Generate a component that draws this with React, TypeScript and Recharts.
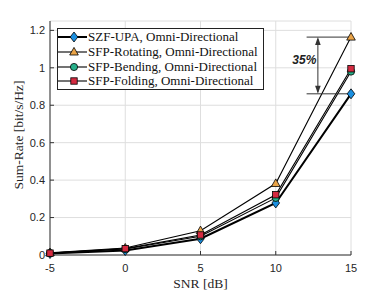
import React from 'react';
import { LineChart, Line, XAxis, YAxis, CartesianGrid, Legend, ReferenceLine } from 'recharts';

const snrDb = [-5, 0, 5, 10, 15];
const szfUpa = [0.008, 0.024, 0.087, 0.278, 0.861];
const sfpRotating = [0.012, 0.037, 0.13, 0.382, 1.164];
const sfpBending = [0.01, 0.032, 0.1, 0.305, 0.98];
const sfpFolding = [0.01, 0.034, 0.107, 0.322, 0.995];
const xTicks = [-5, 0, 5, 10, 15];
const yTicks = [0, 0.2, 0.4, 0.6, 0.8, 1, 1.2];
const seriesNames = [
  'SZF-UPA, Omni-Directional',
  'SFP-Rotating, Omni-Directional',
  'SFP-Bending, Omni-Directional',
  'SFP-Folding, Omni-Directional',
];
const gainLabel = '35%';

const data = snrDb.map((s, i) => ({
  snr: s,
  szf: szfUpa[i],
  rot: sfpRotating[i],
  bend: sfpBending[i],
  fold: sfpFolding[i],
}));

type Shape = 'diamond' | 'triangle' | 'circle' | 'square';

const series: { key: string; name: string; shape: Shape; fill: string; width: number }[] = [
  { key: 'szf', name: seriesNames[0], shape: 'diamond', fill: '#1b8fe0', width: 2 },
  { key: 'rot', name: seriesNames[1], shape: 'triangle', fill: '#eaa448', width: 1.1 },
  { key: 'bend', name: seriesNames[2], shape: 'circle', fill: '#27b08a', width: 1.1 },
  { key: 'fold', name: seriesNames[3], shape: 'square', fill: '#d42a40', width: 1.1 },
];

const AX = '#333333';
const TICK_FONT = { fontFamily: '"Liberation Sans", Arial, sans-serif', fontSize: 11, fill: '#262626' };
const SERIF = '"Liberation Serif", "Times New Roman", serif';

function markerEl(shape: Shape, cx: number, cy: number, fill: string, key?: any) {
  const sw = 0.8;
  if (shape === 'diamond') {
    return (
      <polygon key={key} points={`${cx},${cy - 5} ${cx + 3.8},${cy} ${cx},${cy + 5} ${cx - 3.8},${cy}`} fill={fill} stroke="#000" strokeWidth={sw} />
    );
  }
  if (shape === 'triangle') {
    return (
      <polygon key={key} points={`${cx},${cy - 4.6} ${cx + 4.3},${cy + 3} ${cx - 4.3},${cy + 3}`} fill={fill} stroke="#000" strokeWidth={sw} />
    );
  }
  if (shape === 'circle') {
    return <circle key={key} cx={cx} cy={cy} r={3.6} fill={fill} stroke="#000" strokeWidth={sw} />;
  }
  return <rect key={key} x={cx - 3.2} y={cy - 3.2} width={6.4} height={6.4} fill={fill} stroke="#000" strokeWidth={sw} />;
}

const renderLegend = () => (
  <div
    style={{
      boxSizing: 'border-box',
      width: 207,
      height: 62,
      border: '1px solid #222',
      background: '#fff',
      paddingTop: 1,
      fontFamily: SERIF,
      fontSize: 13,
      color: '#111',
    }}
  >
    {series.map((s) => (
      <div key={s.key} style={{ display: 'flex', alignItems: 'center', height: 14.7, whiteSpace: 'nowrap' }}>
        <svg width={30} height={14} style={{ display: 'block', flex: 'none' }}>
          <line x1={0} y1={7} x2={29} y2={7} stroke="#000" strokeWidth={s.width} />
          {markerEl(s.shape, 16, 7, s.fill)}
        </svg>
        <span style={{ fontFamily: SERIF }}>{s.name}</span>
      </div>
    ))}
  </div>
);

const ArrowShape = (props: any) => {
  const { x1, y1, y2 } = props;
  const top = Math.min(y1, y2);
  const bot = Math.max(y1, y2);
  const mid = (top + bot) / 2;
  return (
    <g>
      <line x1={x1} y1={top + 2} x2={x1} y2={bot - 2} stroke={AX} strokeWidth={1} />
      <polygon points={`${x1},${top} ${x1 - 2.8},${top + 8} ${x1 + 2.8},${top + 8}`} fill={AX} />
      <polygon points={`${x1},${bot} ${x1 - 2.8},${bot - 8} ${x1 + 2.8},${bot - 8}`} fill={AX} />
      <text
        x={x1 - 1.5}
        y={mid - 1.5}
        textAnchor="end"
        fontFamily='"Liberation Sans", Arial, sans-serif'
        fontSize={12}
        fontWeight="bold"
        fontStyle="italic"
        fill="#222"
      >
        {gainLabel}
      </text>
    </g>
  );
};

const YLabel = (props: any) => {
  const vb = props.viewBox || { x: 0, y: 21, width: 50, height: 234 };
  const cx = vb.x + 23;
  const cy = vb.y + vb.height / 2 - 3;
  return (
    <text x={cx} y={cy} transform={`rotate(-90 ${cx} ${cy})`} textAnchor="middle" fontFamily={SERIF} fontSize={13.5} fill="#262626">
      Sum-Rate [bit/s/Hz]
    </text>
  );
};

const XLabel = (props: any) => {
  const vb = props.viewBox || { x: 50, y: 255, width: 301, height: 36 };
  const cx = vb.x + vb.width / 2;
  return (
    <text x={cx} y={vb.y + 33} textAnchor="middle" fontFamily={SERIF} fontSize={13.5} fill="#262626">
      SNR [dB]
    </text>
  );
};

export default function App() {
  return (
    <div style={{ position: 'absolute', left: 0, top: 0, background: '#fff' }}>
      <LineChart width={388} height={291} data={data} margin={{ top: 21, right: 37, bottom: 0, left: 0 }}>
        <CartesianGrid stroke="#dedede" strokeWidth={1} />
        <XAxis
          dataKey="snr"
          type="number"
          domain={[-5, 15]}
          ticks={xTicks}
          height={36}
          stroke={AX}
          tickSize={-4}
          tickMargin={13.5}
          tick={TICK_FONT}
          label={<XLabel />}
        />
        <XAxis
          xAxisId="top"
          orientation="top"
          type="number"
          domain={[-5, 15]}
          ticks={xTicks}
          height={0}
          stroke={AX}
          tickSize={-4}
          tick={false}
        />
        <YAxis
          type="number"
          domain={[0, 1.25]}
          ticks={yTicks}
          width={50}
          stroke={AX}
          tickSize={-4}
          tickMargin={9}
          tick={TICK_FONT}
          tickFormatter={(v: number) => String(v)}
          label={<YLabel />}
        />
        <YAxis
          yAxisId="right"
          orientation="right"
          type="number"
          domain={[0, 1.25]}
          ticks={yTicks}
          width={0}
          stroke={AX}
          tickSize={-4}
          tick={false}
        />
        <Legend
          layout="horizontal"
          verticalAlign="middle"
          align="center"
          content={renderLegend}
          wrapperStyle={{ position: 'absolute', left: 57, top: 28, width: 207, height: 62 }}
        />
        {series.map((s) => (
          <Line
            key={s.key}
            dataKey={s.key}
            name={s.name}
            type="linear"
            stroke="#000"
            strokeWidth={s.width}
            isAnimationActive={false}
            activeDot={false}
            dot={(p: any) => markerEl(s.shape, p.cx, p.cy, s.fill, `${s.key}-${p.index}`)}
          />
        ))}
        <ReferenceLine
          segment={[{ x: 12.05, y: sfpRotating[4] }, { x: 15, y: sfpRotating[4] }]}
          stroke={AX}
          strokeWidth={1}
        />
        <ReferenceLine
          segment={[{ x: 12.05, y: szfUpa[4] }, { x: 15, y: szfUpa[4] }]}
          stroke={AX}
          strokeWidth={1}
        />
        <ReferenceLine
          segment={[{ x: 12.8, y: sfpRotating[4] }, { x: 12.8, y: szfUpa[4] }]}
          shape={ArrowShape}
        />
      </LineChart>
    </div>
  );
}
